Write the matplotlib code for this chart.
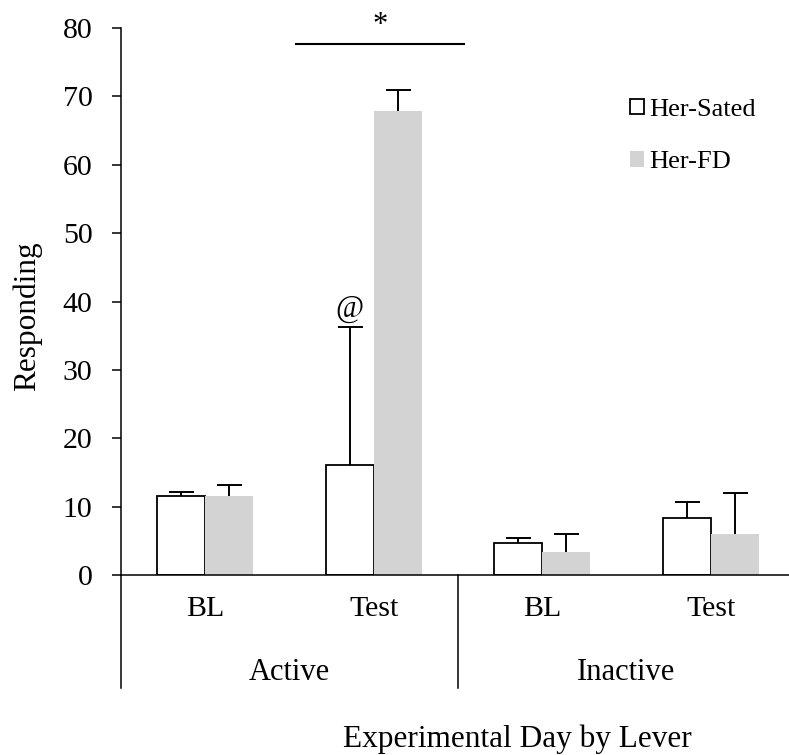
import matplotlib.pyplot as plt
from matplotlib.patches import Patch
import numpy as np

# --- Data ------------------------------------
days = ["BL", "Test", "BL", "Test"]
levers = ["Active", "Inactive"]
sated = [11.5, 16.1, 4.7, 8.4]
sated_err = [0.6, 20.1, 0.7, 2.3]
fd = [11.5, 67.8, 3.3, 6.0]
fd_err = [1.6, 3.1, 2.7, 6.0]
series_names = ["Her-Sated", "Her-FD"]

GREY = "#d3d3d3"
FONT = "Liberation Serif"

plt.rcParams["font.family"] = FONT

fig = plt.figure(figsize=(7.89, 7.55), dpi=100)
ax = fig.add_axes([121 / 789, 1 - 575 / 755, 674 / 789, 547 / 755])

x = np.arange(len(days))
w = 0.285

ax.bar(x - w / 2, sated, w, color="white", edgecolor="black", linewidth=1.3, zorder=2)
ax.bar(x + w / 2, fd, w, color=GREY, edgecolor="none", zorder=2)

# only upper error bars, no cap at the bar top
ekw = dict(fmt="none", ecolor="black", elinewidth=1.4, capsize=9, capthick=1.4, zorder=3)
for xs, vals, errs in [(x - w / 2, sated, sated_err), (x + w / 2, fd, fd_err)]:
    eb = ax.errorbar(xs, vals, yerr=[np.zeros(len(vals)), errs], **ekw)
    eb[1][0].set_visible(False)

ax.set_xlim(-0.5, 3.5)
ax.set_ylim(0, 80)
ax.set_yticks(range(0, 81, 10))
ax.set_xticks(x)
ax.set_xticklabels(days)

ax.tick_params(axis="y", direction="out", length=6.5, width=1.1, pad=14, labelsize=21.5)
ax.tick_params(axis="x", length=0, pad=15, labelsize=21.5)

for s in ["top", "right"]:
    ax.spines[s].set_visible(False)
ax.spines["left"].set_linewidth(1.1)
ax.spines["bottom"].set_linewidth(1.1)

# separators between lever groups, below the axis
trans = ax.get_xaxis_transform()
for xs in [-0.5, 1.5, 3.5]:
    ax.plot([xs, xs], [0, -0.2066], color="black", lw=1.1, transform=trans, clip_on=False)

for i, lev in enumerate(levers):
    ax.text(0.5 + 2 * i, -0.192, lev, transform=trans, ha="center", va="baseline", fontsize=22)

# significance marks
ax.plot([0.539, 1.536], [77.6, 77.6], color="black", lw=1.5, clip_on=False)
ax.text(1.037, 79.3, "*", ha="center", va="baseline", fontsize=22, clip_on=False)
ax.text(1 - w / 2, 37.7, "@", ha="center", va="baseline", fontsize=22)

# axis titles
fig.text(35 / 789, 1 - 316.5 / 755, "Responding", rotation=90, rotation_mode="anchor",
         ha="center", va="baseline", fontsize=22.5)
fig.text(517.6 / 789, 8 / 755, "Experimental Day by Lever", ha="center", va="baseline",
         fontsize=22.5)

handles = [Patch(facecolor="white", edgecolor="black", linewidth=1.3),
           Patch(facecolor=GREY, edgecolor="none")]
fig.legend(handles, series_names, loc="upper left", bbox_to_anchor=(619 / 789, 1 - 88 / 755),
           frameon=False, fontsize=19, handlelength=0.55, handleheight=0.55,
           handletextpad=0.2, labelspacing=1.15, borderaxespad=0)

fig.savefig("out.png", dpi=100)
